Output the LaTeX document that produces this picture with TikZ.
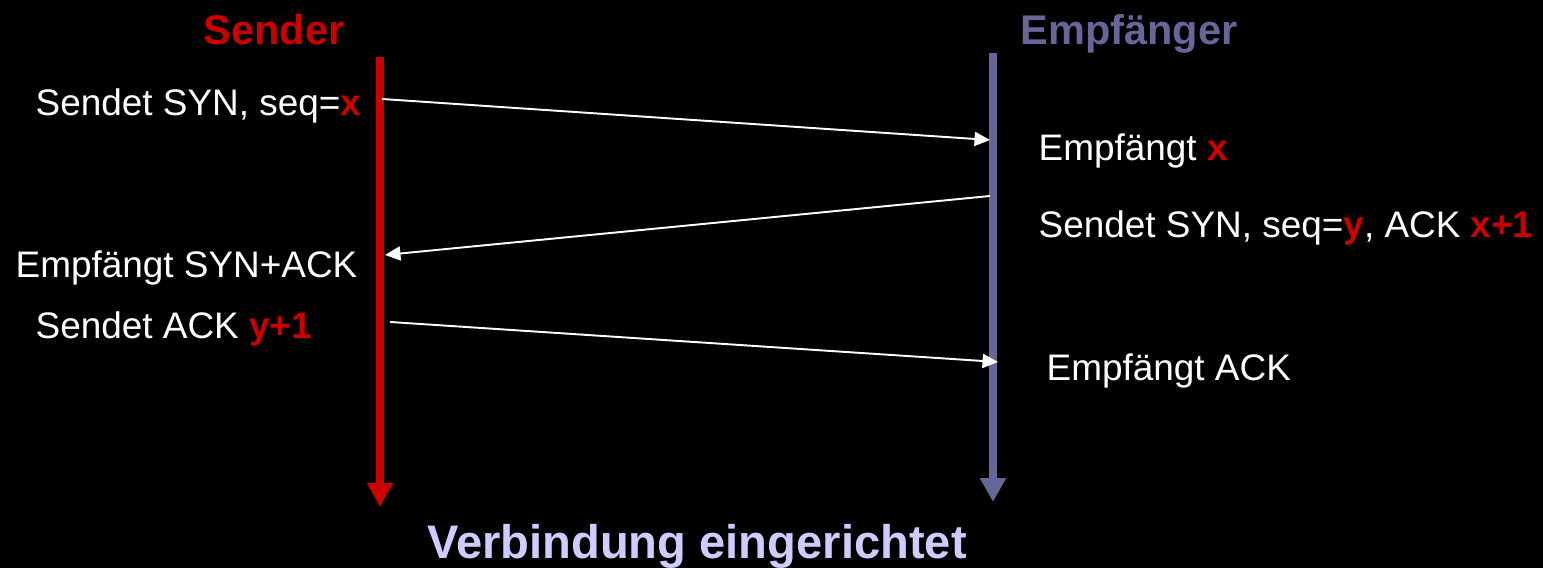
\documentclass[tikz,border=0pt]{standalone}
\usepackage{fontspec}
\setmainfont{Liberation Sans}
\usepackage{xcolor}
\usetikzlibrary{arrows.meta,positioning}

\definecolor{sndred}{HTML}{CC0000}
\definecolor{rcvblue}{HTML}{666699}
\definecolor{donelila}{HTML}{CCCCFF}

\begin{document}
\begin{tikzpicture}[
    x=0.01cm, y=-0.01cm,
    msg/.style={white, font=\fontsize{10.5}{12}\selectfont, anchor=base west, inner sep=0pt},
    title/.style={font=\fontsize{11.8}{14}\selectfont\bfseries, anchor=base west, inner sep=0pt},
    life/.style={line width=2.3pt, -{Triangle[width=7pt,length=6.8pt]}},
    arr/.style={white, line width=0.55pt, -{Triangle[width=4pt,length=4.4pt]}}
]
\fill[black] (0,0) rectangle (1543,568);
\useasboundingbox (0,0) rectangle (1543,568);

% Lifelines
\coordinate (sndtop) at (380,57);
\coordinate (sndbot) at (380,507);
\coordinate (rcvtop) at (993,53);
\coordinate (rcvbot) at (993,502);
\draw[life, sndred] (sndtop) -- (sndbot);
\draw[life, rcvblue] (rcvtop) -- (rcvbot);

% Titles
\node[title, text=sndred] (snd) at (203,45) {Sender};
\node[title, text=rcvblue] (rcv) at (1020,45) {Empfänger};
\node[font=\fontsize{13.4}{16}\selectfont\bfseries, text=donelila, anchor=base, inner sep=0pt] (done) at (697,559) {Verbindung eingerichtet};

% Labels
\node[msg] (syn) at (35,116) {Sendet SYN, seq=\textcolor{sndred}{\bfseries x}};
\node[msg] (gotx) at (1038,161) {Empfängt \textcolor{sndred}{\bfseries x}};
\node[msg] (synack) at (1038,238) {Sendet SYN, seq=\textcolor{sndred}{\bfseries y}, ACK \textcolor{sndred}{\bfseries x+1}};
\node[msg] (gotsa) at (15,278) {Empfängt SYN+ACK};
\node[msg] (ack) at (35,339) {Sendet ACK \textcolor{sndred}{\bfseries y+1}};
\node[msg] (gotack) at (1046,381) {Empfängt ACK};

% Messages
\coordinate (s1) at (382,99);
\coordinate (r1) at (990,140);
\coordinate (r2) at (990,196);
\coordinate (s2) at (385,255);
\coordinate (s3) at (390,322);
\coordinate (r3) at (998,362);
\draw[arr] (s1) -- (r1);
\draw[arr] (r2) -- (s2);
\draw[arr] (s3) -- (r3);
\end{tikzpicture}
\end{document}
